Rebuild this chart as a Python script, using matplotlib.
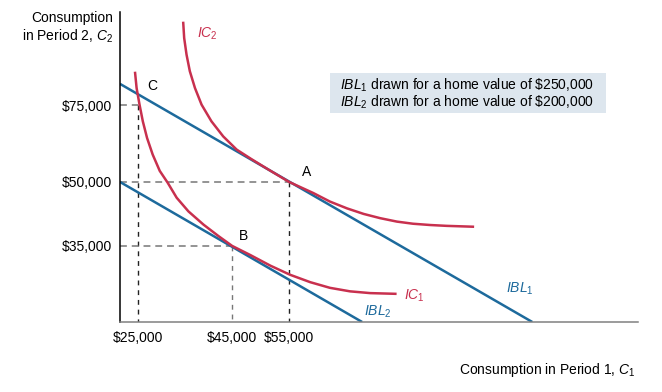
import numpy as np
import matplotlib
matplotlib.use('Agg')
import matplotlib.pyplot as plt
from matplotlib.patches import Rectangle
from matplotlib.ticker import FuncFormatter

plt.rcParams['font.family'] = ['Liberation Sans', 'DejaVu Sans']
plt.rcParams['mathtext.fontset'] = 'custom'
plt.rcParams['mathtext.rm'] = 'Liberation Sans'
plt.rcParams['mathtext.it'] = 'Liberation Sans:italic'

_W_, _H_ = 662, 392
_RED_ = '#c8304e'
_BLUE_ = '#1d6a9c'
_GUIDE_ = '#777777'
_FONTSIZE_ = 10

# Values (dollars)
x_ticks = [25000, 45000, 55000]
y_ticks = [35000, 50000, 75000]
x_range = (21400, 124300)
y_range = (13400, 101400)

# intertemporal budget lines: end points
ibl1_c1 = [21400, 103300]
ibl1_c2 = [81000, 13400]
ibl2_c1 = [21400, 69500]
ibl2_c2 = [50000, 13400]

# indifference curves
ic2_c1 = [34600, 34800, 35300, 36000, 37100, 38500, 40600, 43100, 45800,
          48400, 51300, 55000, 59800, 63100, 66500, 69800, 73100, 76400,
          79600, 83000, 86300, 91500]
ic2_c2 = [98300, 94000, 89300, 84600, 79800, 75100, 69700, 64800, 60500,
          57400, 54100, 50000, 47400, 45400, 43800, 42500, 41500, 40700,
          40200, 39900, 39700, 39500]
ic1_c1 = [24400, 24700, 25300, 26000, 26900, 28100, 29600, 31300, 33200,
          35700, 38900, 42100, 45000, 48200, 51700, 55200, 59200, 63100,
          67100, 71100, 76100]
ic1_c2 = [84100, 79800, 75100, 69700, 64300, 58900, 53600, 49800, 46300,
          43100, 40000, 37300, 35000, 32400, 29400, 26800, 24700, 23100,
          22100, 21600, 21400]

# dashed guides: (C1, C2) of each marked point
guides = [(25000, 75000), (55000, 50000), (45000, 35000)]


# The book figure is not drawn to scale, so the axes get a
# piecewise-linear scale that puts each labelled value where it sits.
_X_KNOTS_ = ([0, 25000, 45000, 55000, 150000], [12.2, 138, 232, 289, 767.2])
_Y_KNOTS_ = ([0, 35000, 50000, 75000, 150000], [-47.4, 76, 140, 217, 481.4])


def _piecewise(knots):
    vals, pos = knots
    fwd = lambda v: np.interp(v, vals, pos)
    inv = lambda p: np.interp(p, pos, vals)
    return fwd, inv


def fig_text(fig, x, y, s, **kw):
    '''
       Text placed in pixel coordinates of the original picture.
    '''
    kw.setdefault('fontsize', _FONTSIZE_)
    return fig.text(x/_W_, 1 - y/_H_, s, **kw)


fig = plt.figure(figsize=(_W_/100, _H_/100), dpi=100)
ax = fig.add_axes([120/_W_, 1 - 322/_H_, 518/_W_, 310/_H_])
ax.set_xscale('function', functions=_piecewise(_X_KNOTS_))
ax.set_yscale('function', functions=_piecewise(_Y_KNOTS_))
ax.set_xlim(*x_range)
ax.set_ylim(*y_range)

# guides
for i, (gx, gy) in enumerate(guides):
    vcol = _GUIDE_ if i == 2 else '#222222'
    ax.plot([x_range[0], gx], [gy, gy], color=_GUIDE_, lw=1.1,
            dashes=(4.5, 3.2), zorder=1)
    ax.plot([gx, gx], [gy, y_range[0]], color=vcol, lw=1.0,
            dashes=(3.5, 3.5), zorder=1)

ax.plot(ibl1_c1, ibl1_c2, color=_BLUE_, lw=1.8, solid_capstyle='butt', zorder=2)
ax.plot(ibl2_c1, ibl2_c2, color=_BLUE_, lw=1.8, solid_capstyle='butt', zorder=2)
ax.plot(ic2_c1, ic2_c2, color=_RED_, lw=1.8, solid_joinstyle='round', zorder=3)
ax.plot(ic1_c1, ic1_c2, color=_RED_, lw=1.8, solid_joinstyle='round', zorder=3)

ax.set_xticks(x_ticks)
ax.set_yticks(y_ticks)
money = FuncFormatter(lambda v, _: f'${v:,.0f}')
ax.xaxis.set_major_formatter(money)
ax.yaxis.set_major_formatter(money)
ax.minorticks_off()
ax.tick_params(axis='x', length=0, pad=6.5, labelsize=_FONTSIZE_)
ax.tick_params(axis='y', length=0, pad=5.8, labelsize=_FONTSIZE_)

for side in ['top', 'right']:
    ax.spines[side].set_visible(False)
ax.spines['left'].set_color('black')
ax.spines['left'].set_linewidth(1.1)
ax.spines['bottom'].set_color('#808080')
ax.spines['bottom'].set_linewidth(1.1)
ax.patch.set_alpha(0)

# axis titles
fig_text(fig, 113, 22, 'Consumption', ha='right', va='baseline')
fig_text(fig, 113, 41, r'in Period 2, $C_2$', ha='right', va='baseline')
fig_text(fig, 636, 374, r'Consumption in Period 1, $C_1$', ha='right', va='baseline')

# curve and point labels
fig_text(fig, 207, 34, r'$IC_2$', color=_RED_, ha='center', va='center')
fig_text(fig, 414, 296, r'$IC_1$', color=_RED_, ha='center', va='center')
fig_text(fig, 378, 312, r'$IBL_2$', color=_BLUE_, ha='center', va='center')
fig_text(fig, 520, 289, r'$IBL_1$', color=_BLUE_, ha='center', va='center')
fig_text(fig, 152, 86, 'C', ha='center', va='center')
fig_text(fig, 307, 172, 'A', ha='center', va='center')
fig_text(fig, 244, 236, 'B', ha='center', va='center')

# note box
fig.add_artist(Rectangle((330/_W_, 1 - 113.3/_H_), 276/_W_, 40.6/_H_,
                         transform=fig.transFigure, facecolor='#dde6ee',
                         edgecolor='none', zorder=0))
fig_text(fig, 340, 90, r'$IBL_1$ drawn for a home value of \$250,000', va='baseline')
fig_text(fig, 340, 106.5, r'$IBL_2$ drawn for a home value of \$200,000', va='baseline')

plt.savefig('out.png', dpi=100)
plt.close()
